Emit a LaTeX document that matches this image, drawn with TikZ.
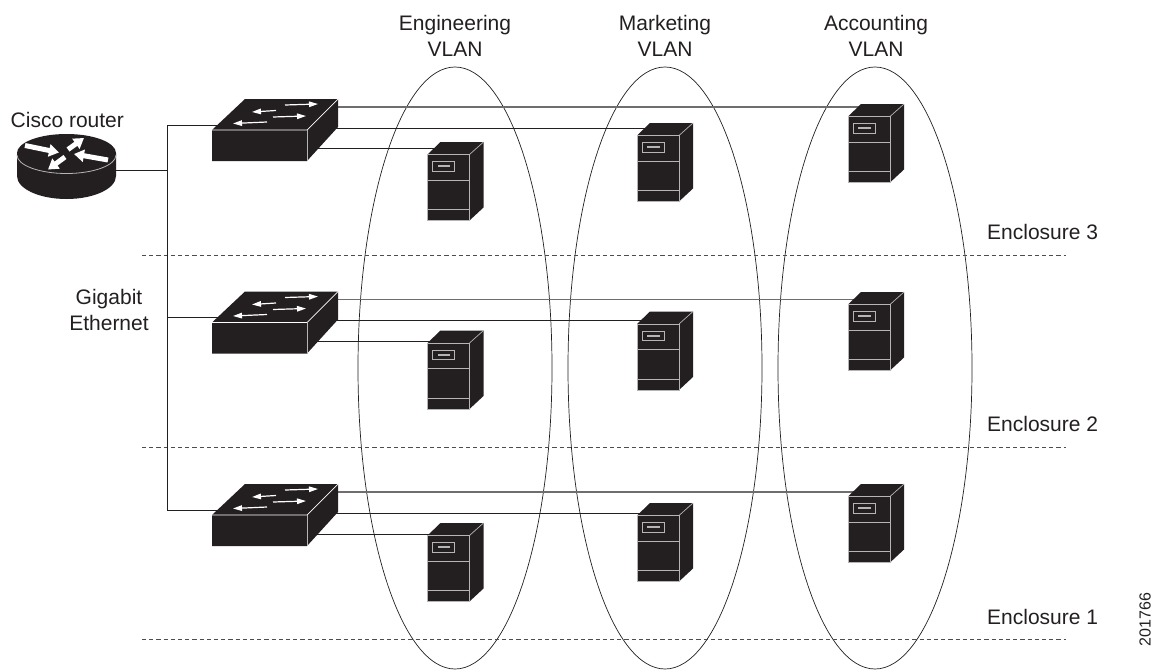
\documentclass[tikz,border=0pt]{standalone}
\usepackage{fontspec}
\setmainfont{Liberation Sans}
\usetikzlibrary{arrows.meta}
\definecolor{ink}{HTML}{231F20}
\definecolor{edge}{HTML}{B5B5B5}
\tikzset{x=1pt,y=-1pt,
  lbl/.style={font=\fontsize{21}{26}\selectfont,text=ink,inner sep=0pt,align=center},
  tinylbl/.style={font=\fontsize{16}{20}\selectfont,text=ink,inner sep=0pt},
  wire/.style={draw=ink,line width=0.8pt},
  topwire/.style={draw=ink!65,line width=1.2pt},
  sep/.style={draw=ink!80,line width=0.7pt,dash pattern=on 4.2pt off 3pt},
  vlan/.style={draw=ink,line width=0.7pt},
  smallarrow/.style={draw=white,line width=1.2pt,-{Triangle[length=9pt,width=5.5pt]}},
  bigarrow/.style={draw=white,line width=5pt,-{Triangle[length=10pt,width=12pt]}}
}
\newcommand{\switchbox}[3]{%
  \begin{scope}[shift={(#2,#3)}]
  \fill[ink] (0,31) -- (33,0) -- (126,0) -- (126,28) -- (95,62) -- (0,62) -- cycle;
  \draw[white,line width=0.7pt] (0,31) -- (95,31) -- (126,0);
  \draw[edge,line width=0.7pt] (95,31) -- (95,62);
  \draw[smallarrow] (73,6) -- (106,5);
  \draw[smallarrow] (64,11.5) -- (40,13);
  \draw[smallarrow] (61,18) -- (94,17);
  \draw[smallarrow] (55,23) -- (21,24.5);
  \end{scope}}
\newcommand{\serverbox}[3]{%
  \begin{scope}[shift={(#2,#3)}]
  \fill[ink] (0,12.5) -- (13,0) -- (56,0) -- (56,65.5) -- (42,78.5) -- (0,78.5) -- cycle;
  \draw[edge,line width=0.9pt] (0,12.5) -- (42,12.5) -- (42,78.5) -- (0,78.5) -- cycle;
  \draw[edge,line width=0.7pt] (42,12.5) -- (56,0);
  \draw[edge,line width=0.9pt] (0,38) -- (42,38) (0,67.5) -- (42,67.5);
  \draw[edge,line width=0.9pt] (5.3,19.5) rectangle (27,29);
  \fill[edge] (10.3,23) rectangle (22.7,25.2);
  \end{scope}}
\begin{document}
\begin{tikzpicture}
\useasboundingbox (0,0) rectangle (1156,669);
\begin{scope}
\clip (0,0) rectangle (1156,669);
\draw[vlan] (455,368) ellipse [x radius=97,y radius=301];
\draw[vlan] (665,368) ellipse [x radius=97,y radius=301];
\draw[vlan] (875,368) ellipse [x radius=97,y radius=301];
\end{scope}
\foreach \y in {255,447,639} \draw[sep] (142,\y) -- (1066,\y);
% connector free ends
\coordinate (rt) at (110,170);
\coordinate (jn) at (167,170);
\coordinate (inA) at (225,125);
\coordinate (inB) at (225,317);
\coordinate (inC) at (225,510);
\coordinate (topTrunk) at (167,125);
\coordinate (midTrunk) at (167,317);
\coordinate (botTrunk) at (167,510);
\draw[wire] (rt) -- (jn);
\draw[wire] (inA) -- (topTrunk) -- (botTrunk) -- (inC);
\draw[wire] (midTrunk) -- (inB);
\coordinate (ea) at (440,148);
\coordinate (ma) at (650,128);
\coordinate (aa) at (860,107);
\coordinate (eb) at (440,341);
\coordinate (mb) at (650,320.5);
\coordinate (ab) at (860,299.5);
\coordinate (ec) at (440,534);
\coordinate (mc) at (650,513);
\coordinate (ac) at (860,492);
\foreach \m in {a,b,c}{
 \draw[wire] (300,0 |- e\m) -- (e\m);
 \draw[wire] (300,0 |- m\m) -- (m\m);
 \draw[topwire] (300,0 |- a\m) -- (a\m);
}
% router
\fill[ink] (17,153) arc[start angle=180,end angle=360,x radius=49.5,y radius=19] -- (116,176) arc[start angle=0,end angle=180,x radius=49.5,y radius=23] -- cycle;
\draw[edge,line width=0.8pt] (17,155) arc[start angle=180,end angle=0,x radius=49.5,y radius=18.5];
\draw[bigarrow] (25,145.5) -- (59,152.5);
\draw[bigarrow] (68,149.5) -- (84,138);
\draw[bigarrow] (108,160) -- (74,154);
\draw[bigarrow] (65,157) -- (48,169.5);
\switchbox{sa}{212}{99}
\switchbox{sb}{212}{291.5}
\switchbox{sc}{212}{484}
\serverbox{ea1}{427.5}{142}
\serverbox{eb1}{427.5}{330.5}
\serverbox{ec1}{427.5}{523}
\serverbox{ma1}{637}{123}
\serverbox{mb1}{637}{311.5}
\serverbox{mc1}{637}{503}
\serverbox{aa1}{848}{104}
\serverbox{ab1}{848}{292}
\serverbox{ac1}{848}{484}
\node[lbl] (t1) at (455,36) {Engineering\\VLAN};
\node[lbl] (t2) at (665,36) {Marketing\\VLAN};
\node[lbl] (t3) at (876,36) {Accounting\\VLAN};
\node[lbl] (t4) at (109,310) {Gigabit\\Ethernet};
\node[lbl,anchor=west] (tr) at (10.5,120) {Cisco router};
\node[lbl,anchor=west] (e3) at (987,232) {Enclosure 3};
\node[lbl,anchor=west] (e2) at (987,424) {Enclosure 2};
\node[lbl,anchor=west] (e1) at (987,617) {Enclosure 1};
\node[tinylbl,rotate=90] (id) at (1145,619.5) {201766};
\end{tikzpicture}
\end{document}
